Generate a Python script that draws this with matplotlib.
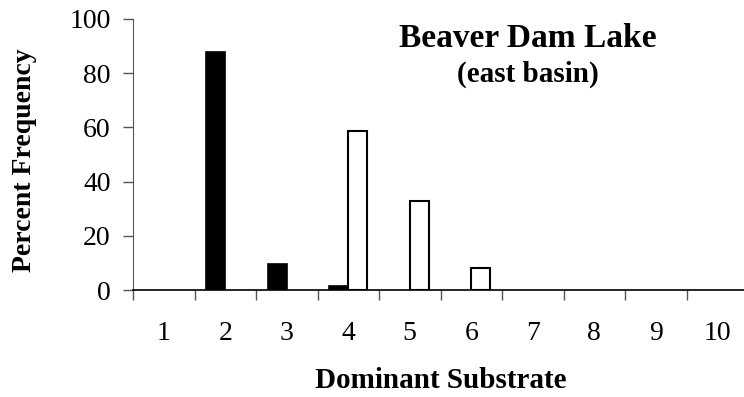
import numpy as np
import matplotlib
matplotlib.use("Agg")
import matplotlib.pyplot as plt

# Percent frequency of each dominant substrate class
substrate = [1, 2, 3, 4, 5, 6, 7, 8, 9, 10]
filled_pct = [0, 88, 9.5, 1.5, 0, 0, 0, 0, 0, 0]
open_pct = [0, 0, 0, 58.5, 33, 8, 0, 0, 0, 0]
y_ticks = [0, 20, 40, 60, 80, 100]

plt.rcParams['font.family'] = ['Liberation Serif', 'DejaVu Serif']

fig = plt.figure(figsize=(7.44, 3.97), dpi=100)
ax = fig.add_axes([133 / 744, 107 / 397, 615 / 744, 271 / 397])

x = np.array(substrate)
w = 0.31
# zero-height bars are skipped so they leave no edge line on the axis
for xi, v in zip(x, filled_pct):
    if v > 0:
        ax.bar(xi - w / 2, v, w, color='black', edgecolor='black', linewidth=1.2)
for xi, v in zip(x, open_pct):
    if v > 0:
        ax.bar(xi + w / 2, v, w, color='white', edgecolor='black', linewidth=1.5)

ax.set_xlim(0.5, 10.5)
ax.set_ylim(0, 100)
ax.set_yticks(y_ticks)
ax.tick_params(axis='y', labelsize=20, length=7, width=1, direction='out', pad=9,
               color='#555555')

# category ticks sit between groups; labels sit under each group
ax.set_xticks(np.arange(0.5, 11, 1.0))
ax.set_xticklabels([])
ax.set_xticks(x, minor=True)
ax.set_xticklabels([str(s) for s in substrate], minor=True)
ax.tick_params(axis='x', which='major', length=7, width=1, color='#555555')
ax.tick_params(axis='x', which='minor', length=0, labelsize=20, pad=22)

for side in ['top', 'right']:
    ax.spines[side].set_visible(False)
ax.spines['left'].set_color('#555555')
ax.spines['bottom'].set_linewidth(1.2)

fig.text(441 / 744, (397 - 388) / 397, 'Dominant Substrate', fontsize=21,
         fontweight='bold', ha='center', va='baseline')
fig.text(25 / 744, 1 - 160 / 397, 'Percent Frequency', fontsize=20,
         fontweight='bold', rotation=90, ha='center', va='center')

fig.text(528 / 744, 1 - 47 / 397, 'Beaver Dam Lake', fontsize=24, fontweight='bold',
         ha='center', va='baseline')
fig.text(528 / 744, 1 - 82 / 397, '(east basin)', fontsize=21, fontweight='bold',
         ha='center', va='baseline')

fig.savefig('out.png', dpi=100)
